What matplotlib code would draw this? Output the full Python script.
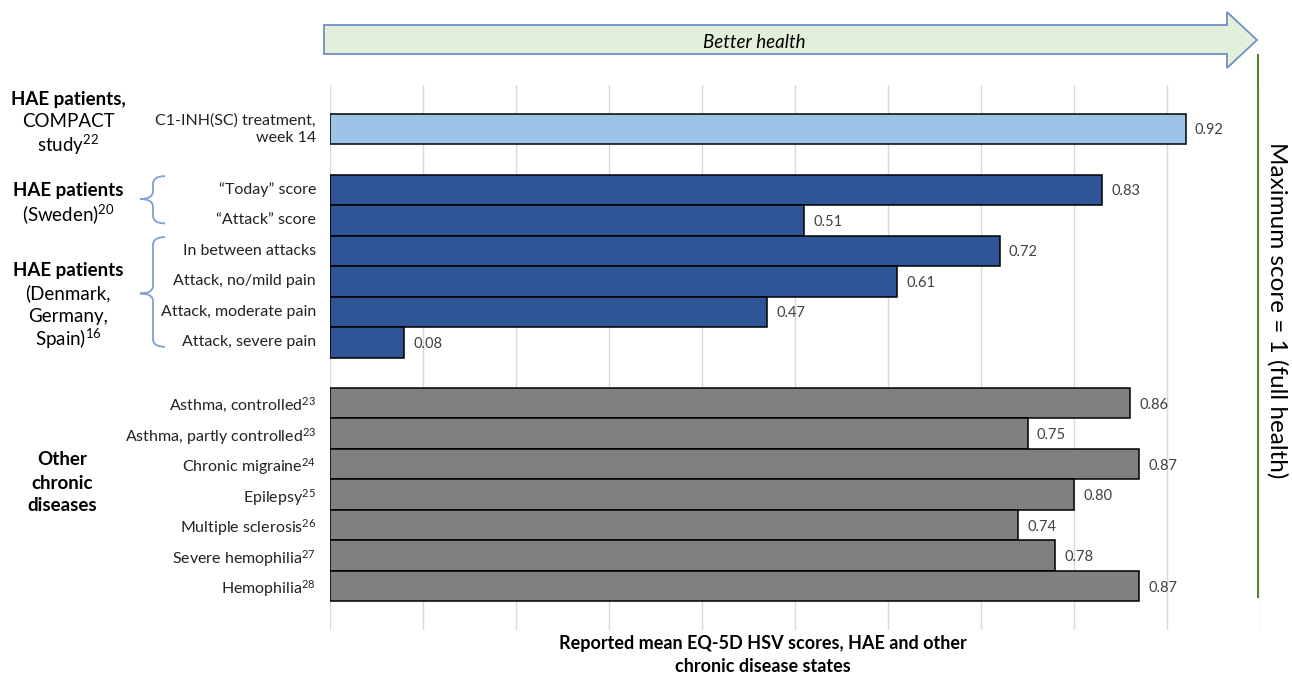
import matplotlib.pyplot as plt
import matplotlib.transforms as mtransforms
from matplotlib.patches import Polygon, PathPatch
from matplotlib.path import Path

plt.rcParams['font.family'] = ['Lato', 'DejaVu Sans']
plt.rcParams['mathtext.fontset'] = 'custom'
plt.rcParams['mathtext.rm'] = 'Lato'
plt.rcParams['mathtext.it'] = 'Lato:italic'
plt.rcParams['mathtext.bf'] = 'Lato:bold'

# -----------------------------
# data
# -----------------------------
labels = [
    "C1-INH(SC) treatment,\nweek 14",
    "\u201cToday\u201d score",
    "\u201cAttack\u201d score",
    "In between attacks",
    "Attack, no/mild pain",
    "Attack, moderate pain",
    "Attack, severe pain",
    "Asthma, controlled$^{23}$",
    "Asthma, partly controlled$^{23}$",
    "Chronic migraine$^{24}$",
    "Epilepsy$^{25}$",
    "Multiple sclerosis$^{26}$",
    "Severe hemophilia$^{27}$",
    "Hemophilia$^{28}$",
]
values = [0.92, 0.83, 0.51, 0.72, 0.61, 0.47, 0.08,
          0.86, 0.75, 0.87, 0.80, 0.74, 0.78, 0.87]
rows = [0, 2, 3, 4, 5, 6, 7, 9, 10, 11, 12, 13, 14, 15]
group = ["compact", "hae", "hae", "hae", "hae", "hae", "hae",
         "other", "other", "other", "other", "other", "other", "other"]
colors = {"compact": "#9DC3E6", "hae": "#2F5597", "other": "#808080"}

W, H = 1292, 675
fig = plt.figure(figsize=(W / 100, H / 100), dpi=100)
ax = fig.add_axes([330 / W, 1 - 630 / H, 930 / W, 545 / H])

ax.barh(rows, values, height=1.0, color=[colors[g] for g in group],
        edgecolor="black", linewidth=1.1, zorder=3)
for r, v in zip(rows, values):
    ax.text(v + 0.01, r + 0.05, f"{v:.2f}", va="center", ha="left",
            fontsize=10.5, color="#404040")

ax.set_xlim(0, 1)
ax.set_ylim(16.44, -1.44)
ax.set_xticks([i / 10 for i in range(11)])
ax.set_xticklabels([])
ax.set_yticks([])
ax.grid(axis="x", color="#D9D9D9", linewidth=1, zorder=0)
ax.tick_params(axis="both", length=0)
for s in ax.spines.values():
    s.set_visible(False)

# pixel-x / data-y transform for left annotations
px = mtransforms.Affine2D().scale(1 / W, 1 / H) + fig.transFigure
bt = mtransforms.blended_transform_factory(px, ax.transData)

# category labels
for lab, r in zip(labels, rows):
    va = "center_baseline" if "$" in lab else "center"
    ax.text(316, r, lab, transform=bt, ha="right", va=va, fontsize=11.5,
            color="#222222", multialignment="right", linespacing=1.3,
            clip_on=False)

def group_label(lines, ys, x=68, bold_all=False):
    for i, (txt, y) in enumerate(zip(lines, ys)):
        ax.text(x, y, txt, transform=bt, ha="center", va="center",
                fontsize=13.5,
                fontweight="bold" if (i == 0 or bold_all) else "normal",
                color="black", clip_on=False)

group_label(["HAE patients,", "COMPACT", "study$^{22}$"], [-0.95, -0.23, 0.53])
group_label(["HAE patients", "(Sweden)$^{20}$"], [2.03, 2.8])
group_label(["HAE patients", "(Denmark,", "Germany,", "Spain)$^{16}$"],
            [4.66, 5.38, 6.14, 6.89])
group_label(["Other", "chronic", "diseases"], [10.86, 11.62, 12.37], x=62,
            bold_all=True)

def brace(y0, y1, ym, xs=153, xt=140, xe=165, r=0.25):
    verts = [(xe, y0), (xs, y0), (xs, y0 + r), (xs, ym - r), (xs, ym), (xt, ym),
             (xs, ym), (xs, ym + r), (xs, y1 - r), (xs, y1), (xe, y1)]
    codes = [Path.MOVETO, Path.CURVE3, Path.CURVE3, Path.LINETO, Path.CURVE3, Path.CURVE3,
             Path.CURVE3, Path.CURVE3, Path.LINETO, Path.CURVE3, Path.CURVE3]
    ax.add_patch(PathPatch(Path(verts, codes), transform=bt, fill=False,
                           edgecolor="#7F9FD6", linewidth=1.3, clip_on=False))

brace(1.55, 3.1, 2.3)
brace(3.55, 7.15, 5.4)

# top arrow
arrow = [(324, 25), (1227, 25), (1227, 12), (1257, 40), (1227, 68), (1227, 54), (324, 54)]
arrow = [(x, H - y) for x, y in arrow]
fig.add_artist(Polygon(arrow, closed=True, transform=px, facecolor="#E2EFDA",
                       edgecolor="#6F8FC6", linewidth=1.3))
fig.text(754 / W, 1 - 43 / H, "Better health", ha="center", va="center",
         fontsize=13.5, style="italic", color="black")

# right side: full health line
fig.add_artist(plt.Line2D([1258 / W, 1258 / W], [1 - 55 / H, 1 - 597 / H],
                          color="#548235", linewidth=1.5))
fig.text(1277 / W, 1 - 310 / H, "Maximum score = 1 (full health)", rotation=270,
         ha="center", va="center", fontsize=17.5, color="black")

fig.text(763 / W, 1 - 655 / H,
         "Reported mean EQ-5D HSV scores, HAE and other\nchronic disease states",
         ha="center", va="center", fontsize=13, fontweight="bold",
         linespacing=1.45)

fig.savefig("out.png", dpi=100)
